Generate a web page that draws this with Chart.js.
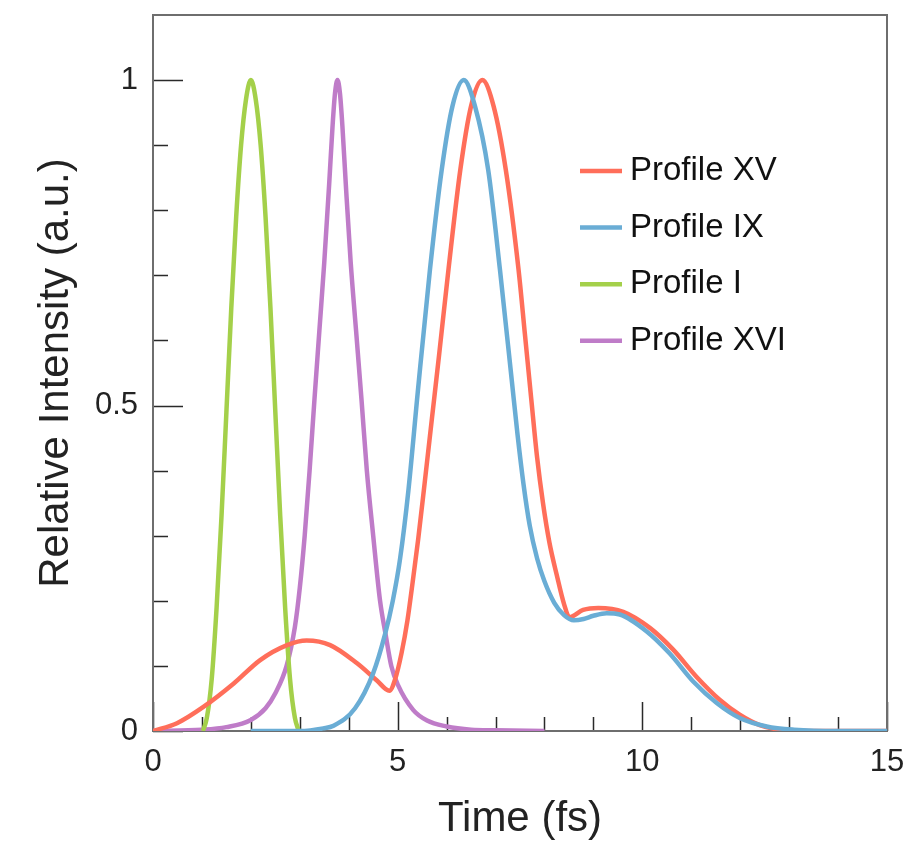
<!DOCTYPE html>
<html>
<head>
<meta charset="utf-8">
<title>Relative intensity profiles</title>
<script src="https://cdn.jsdelivr.net/npm/chart.js@4.4.1/dist/chart.umd.min.js"></script>
<style>
  body { margin: 0; background: #fff; }
  canvas { display: block; }
</style>
</head>
<body>
<canvas id="myChart" width="907" height="845"></canvas>
<script>
// Valores (tiempo en fs, intensidad relativa)
const timeXV = [0, 0.49, 1.03, 1.65, 2.19, 2.74, 3.14, 3.62, 4.17, 4.57, 4.83, 4.95, 5.08, 5.2, 5.3, 5.42, 5.55, 5.7, 5.85, 6.04, 6.28, 6.5, 6.73, 6.96, 7.21, 7.47, 7.6, 7.73, 7.85, 7.97, 8.1, 8.25, 8.4, 8.51, 8.79, 9.1, 9.61, 10.16, 10.63, 11.11, 11.58, 11.99, 12.4, 12.81, 13.4, 15];
const valXV = [0, 0.012, 0.037, 0.073, 0.109, 0.132, 0.139, 0.132, 0.104, 0.078, 0.062, 0.08, 0.12, 0.17, 0.225, 0.295, 0.38, 0.48, 0.58, 0.71, 0.862, 0.96, 1.0, 0.96, 0.862, 0.709, 0.61, 0.51, 0.42, 0.35, 0.29, 0.24, 0.195, 0.175, 0.186, 0.189, 0.183, 0.158, 0.125, 0.083, 0.048, 0.025, 0.009, 0.002, 0, 0];

const timeIX = [2.0, 3.0, 3.48, 3.69, 4.13, 4.5, 4.74, 4.9, 5.05, 5.22, 5.41, 5.66, 5.9, 6.12, 6.35, 6.58, 6.85, 7.09, 7.33, 7.45, 7.57, 7.7, 7.85, 8.0, 8.2, 8.4, 8.6, 8.8, 9.0, 9.27, 9.54, 10.09, 10.56, 11.04, 11.52, 11.99, 12.54, 13.1, 14, 15];
const valIX = [0, 0, 0.004, 0.008, 0.035, 0.089, 0.148, 0.2, 0.265, 0.37, 0.52, 0.709, 0.862, 0.96, 1.0, 0.96, 0.862, 0.709, 0.54, 0.455, 0.38, 0.315, 0.265, 0.23, 0.197, 0.178, 0.17, 0.172, 0.177, 0.181, 0.179, 0.153, 0.119, 0.076, 0.043, 0.02, 0.007, 0.002, 0, 0];

const timeI = [1.02, 1.1, 1.2, 1.3, 1.4, 1.5, 1.6, 1.7, 1.8, 1.9, 2.0, 2.1, 2.2, 2.3, 2.4, 2.5, 2.6, 2.7, 2.8, 2.9, 2.98];
const valI = [0, 0.02, 0.08, 0.19, 0.33, 0.49, 0.65, 0.79, 0.9, 0.97, 1.0, 0.97, 0.9, 0.79, 0.65, 0.49, 0.33, 0.19, 0.08, 0.02, 0];

const timeXVI = [0, 1.0, 1.5, 2.0, 2.3, 2.5, 2.73, 2.9, 3.0, 3.1, 3.2, 3.3, 3.4, 3.5, 3.6, 3.67, 3.72, 3.77, 3.82, 3.87, 3.94, 4.04, 4.15, 4.26, 4.37, 4.5, 4.64, 4.75, 4.87, 5.01, 5.32, 5.6, 6.0, 6.5, 7.0, 8.0];
const valXVI = [0, 0.002, 0.006, 0.017, 0.035, 0.058, 0.1, 0.16, 0.22, 0.3, 0.4, 0.51, 0.615, 0.72, 0.84, 0.93, 0.98, 1.0, 0.98, 0.93, 0.84, 0.72, 0.615, 0.51, 0.4, 0.3, 0.2, 0.15, 0.1, 0.07, 0.032, 0.016, 0.007, 0.002, 0.001, 0];

const seriesLabels = ['Profile XV', 'Profile IX', 'Profile I', 'Profile XVI'];
const seriesColors = ['#FF6E5A', '#6AADD5', '#A4D04A', '#BF7CC8'];

// Etiquetas y marcas de los ejes
const xTickLabels = [0, 5, 10, 15];
const yTickLabels = [0, 0.5, 1];
const xTickMarks = [0, 1, 2, 3, 4, 5, 6, 7, 8, 9, 10, 11, 12, 13, 14, 15];
const yTickMarks = [0, 0.1, 0.2, 0.3, 0.4, 0.5, 0.6, 0.7, 0.8, 0.9, 1.0];

const FONT = "'Liberation Sans', Arial, Helvetica, sans-serif";

function toPoints(xs, ys) {
    return xs.map((x, i) => ({ x: x, y: ys[i] }));
}

// Marco y marcas hacia dentro
const frameTicks = {
    id: 'frameTicks',
    beforeDatasetsDraw(chart) {
        const { ctx, chartArea: a, scales: { x, y } } = chart;
        ctx.save();
        ctx.strokeStyle = '#2a2a2a';
        ctx.lineWidth = 1.5;
        ctx.beginPath();
        xTickMarks.forEach(v => {
            const px = Math.round(x.getPixelForValue(v)) + 0.5;
            const len = xTickLabels.includes(v) ? 29 : 14;
            ctx.moveTo(px, a.bottom);
            ctx.lineTo(px, a.bottom - len);
        });
        yTickMarks.forEach(v => {
            const py = Math.round(y.getPixelForValue(v)) + 0.5;
            const len = yTickLabels.includes(Math.round(v * 10) / 10) ? 30 : 15;
            ctx.moveTo(a.left, py);
            ctx.lineTo(a.left + len, py);
        });
        ctx.stroke();

        ctx.strokeStyle = '#6e6e6e';
        ctx.lineWidth = 2;
        ctx.strokeRect(a.left, a.top, a.right - a.left, a.bottom - a.top);
        ctx.restore();
    }
};

// Leyenda dentro del area del grafico
const insideLegend = {
    id: 'insideLegend',
    afterDraw(chart) {
        const { ctx, chartArea: a } = chart;
        const x0 = a.left + 427;
        const y0 = a.top + 156;
        ctx.save();
        ctx.font = '33px ' + FONT;
        ctx.textBaseline = 'middle';
        ctx.textAlign = 'left';
        chart.data.datasets.forEach((ds, i) => {
            const yy = y0 + i * 56.6;
            ctx.strokeStyle = ds.borderColor;
            ctx.lineWidth = 4.5;
            ctx.beginPath();
            ctx.moveTo(x0, yy);
            ctx.lineTo(x0 + 42, yy);
            ctx.stroke();
            ctx.fillStyle = '#111';
            ctx.fillText(ds.label, x0 + 50, yy);
        });
        ctx.restore();
    }
};

const chartData = {
    datasets: [
        { label: seriesLabels[0], data: toPoints(timeXV, valXV), borderColor: seriesColors[0], order: 1 },
        { label: seriesLabels[1], data: toPoints(timeIX, valIX), borderColor: seriesColors[1], order: 0 },
        { label: seriesLabels[2], data: toPoints(timeI, valI), borderColor: seriesColors[2], order: 2 },
        { label: seriesLabels[3], data: toPoints(timeXVI, valXVI), borderColor: seriesColors[3], order: 3 }
    ]
};

const config = {
    type: 'line',
    data: chartData,
    options: {
        responsive: false,
        animation: false,
        layout: { padding: { top: 15, right: 20, left: 0, bottom: 0 } },
        elements: {
            point: { radius: 0 },
            line: { borderWidth: 4.5, fill: false, cubicInterpolationMode: 'monotone' }
        },
        plugins: {
            legend: { display: false },
            tooltip: { enabled: false }
        },
        scales: {
            x: {
                type: 'linear',
                min: 0,
                max: 15,
                grid: { display: false, drawTicks: false },
                border: { display: false },
                ticks: {
                    stepSize: 5,
                    padding: 13,
                    maxRotation: 0,
                    color: '#222',
                    font: { family: FONT, size: 31 },
                    callback: v => xTickLabels.includes(v) ? String(v) : ''
                },
                title: {
                    display: true,
                    text: 'Time (fs)',
                    color: '#222',
                    font: { family: FONT, size: 42 },
                    padding: { top: 0, bottom: 0 }
                },
                afterFit: s => {
                    s.height = 114;
                    s.paddingLeft = 0;
                    s.paddingRight = 0;
                }
            },
            y: {
                type: 'linear',
                min: 0,
                max: 1.1,
                grid: { display: false, drawTicks: false },
                border: { display: false },
                ticks: {
                    stepSize: 0.5,
                    padding: 15,
                    color: '#222',
                    font: { family: FONT, size: 31 },
                    callback: v => yTickLabels.includes(v) ? String(v) : ''
                },
                title: {
                    display: true,
                    text: 'Relative Intensity (a.u.)',
                    color: '#222',
                    font: { family: FONT, size: 42 },
                    padding: { top: 31, bottom: 0 }
                },
                afterFit: s => {
                    s.width = 153;
                    s.paddingTop = 0;
                    s.paddingBottom = 0;
                }
            }
        }
    },
    plugins: [frameTicks, insideLegend]
};

document.addEventListener('DOMContentLoaded', function () {
    new Chart(document.getElementById('myChart'), config);
});
</script>
</body>
</html>
